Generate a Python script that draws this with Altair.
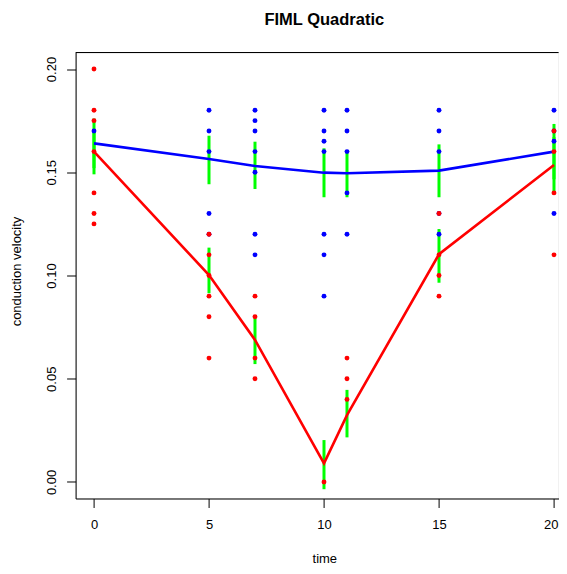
import altair as alt
import pandas as pd

# ---- data ----
times = [0, 5, 7, 10, 11, 15, 20]

blue_fit = [0.164, 0.1564, 0.153, 0.1498, 0.1495, 0.1508, 0.160]
red_fit = [0.160, 0.1002, 0.0688, 0.009, 0.0324, 0.1103, 0.1535]

blue_hi = [0.176, 0.1677, 0.1648, 0.1616, 0.160, 0.1635, 0.1734]
blue_lo = [0.152, 0.1442, 0.1419, 0.1379, 0.1379, 0.1379, 0.1466]
red_hi = [0.171, 0.1135, 0.0793, 0.0203, 0.0446, 0.1225, 0.167]
red_lo = [0.149, 0.0914, 0.0571, -0.0035, 0.0216, 0.0965, 0.1398]

blue_pt_time = [0, 5, 5, 5, 5, 5, 7, 7, 7, 7, 7, 7, 7,
                10, 10, 10, 10, 10, 10, 10, 11, 11, 11, 11, 11,
                15, 15, 15, 15, 15, 20, 20, 20, 20]
blue_pt_val = [0.17, 0.18, 0.17, 0.16, 0.13, 0.12, 0.18, 0.175, 0.17, 0.16, 0.15, 0.12, 0.11,
               0.18, 0.17, 0.165, 0.16, 0.12, 0.11, 0.09, 0.18, 0.17, 0.16, 0.14, 0.12,
               0.18, 0.17, 0.16, 0.13, 0.12, 0.18, 0.17, 0.165, 0.13]

red_pt_time = [0, 0, 0, 0, 0, 0, 0, 5, 5, 5, 5, 5, 5, 7, 7, 7, 7,
               10, 11, 11, 11, 15, 15, 15, 15, 20, 20, 20, 20]
red_pt_val = [0.20, 0.18, 0.175, 0.16, 0.14, 0.13, 0.125, 0.12, 0.11, 0.10, 0.09, 0.08, 0.06,
              0.09, 0.08, 0.06, 0.05, 0.00, 0.06, 0.05, 0.04, 0.13, 0.11, 0.10, 0.09,
              0.17, 0.16, 0.14, 0.11]

y_ticks = [0, 0.05, 0.10, 0.15, 0.20]
x_ticks = [0, 5, 10, 15, 20]

# ---- tables ----
fit_df = pd.DataFrame(
    {"time": times * 2, "fit": blue_fit + red_fit,
     "grp": ["blue"] * len(times) + ["red"] * len(times)})
err_df = pd.DataFrame(
    {"time": times * 2, "lo": blue_lo + red_lo, "hi": blue_hi + red_hi})
blue_df = pd.DataFrame({"time": blue_pt_time, "val": blue_pt_val})
red_df = pd.DataFrame({"time": red_pt_time, "val": red_pt_val})

FONT = "Liberation Sans"
W, H = 483, 446

xscale = alt.Scale(domain=[-0.8, W / 23 - 0.8], nice=False, zero=False)
yscale = alt.Scale(domain=[-0.008, 0.208], nice=False, zero=False)

xaxis = alt.Axis(values=x_ticks, title="time", grid=False, tickSize=9, tickColor="black",
                 domainColor="black", labelFont=FONT, labelFontSize=13, labelColor="black",
                 labelBaseline="alphabetic", labelPadding=21.5,
                 labelAlign={"condition": {"test": "datum.value >= 20", "value": "right"},
                             "value": "center"},
                 labelOffset={"condition": {"test": "datum.value >= 20", "value": 4},
                              "value": 0},
                 labelFlush=False,
                 titleFont=FONT, titleFontSize=13, titleFontWeight="normal", titleColor="black",
                 titleBaseline="alphabetic", titleX=248.7, titleY=64.5, titleAlign="center")
yaxis = alt.Axis(values=y_ticks, format=".2f", title="conduction velocity", grid=False,
                 tickSize=9, tickColor="black", domainColor="black", labelFont=FONT,
                 labelFontSize=13, labelColor="black", labelAngle=270, labelAlign="center",
                 labelBaseline="alphabetic", labelPadding=11, labelFlush=False,
                 titleFont=FONT, titleFontSize=13, titleFontWeight="normal", titleColor="black",
                 titleAngle=270, titleAlign="center", titleBaseline="alphabetic",
                 titleX=-54.6, titleY=218.5)

err = alt.Chart(err_df).mark_rule(color="#00ff00", strokeWidth=3).encode(
    x=alt.X("time:Q", scale=xscale, axis=xaxis),
    y=alt.Y("lo:Q", scale=yscale, axis=yaxis),
    y2="hi:Q")

lines = alt.Chart(fit_df).mark_line(strokeWidth=2.6).encode(
    x=alt.X("time:Q", scale=xscale),
    y=alt.Y("fit:Q", scale=yscale),
    color=alt.Color("grp:N", scale=alt.Scale(domain=["blue", "red"], range=["#0000ff", "#ff0000"]),
                    legend=None))

bpts = alt.Chart(blue_df).mark_circle(size=24, opacity=1, color="#0000ff").encode(
    x=alt.X("time:Q", scale=xscale), y=alt.Y("val:Q", scale=yscale))
rpts = alt.Chart(red_df).mark_circle(size=24, opacity=1, color="#ff0000").encode(
    x=alt.X("time:Q", scale=xscale), y=alt.Y("val:Q", scale=yscale))

top = alt.Chart(pd.DataFrame({"a": [0]})).mark_rule(color="black", strokeWidth=1).encode(
    x=alt.value(0), x2=alt.value(W), y=alt.value(0))

chart = alt.layer(err, lines, bpts, rpts, top).properties(
    width=W, height=H,
    title=alt.TitleParams("FIML Quadratic", font=FONT, fontSize=16.5, fontWeight="bold",
                          color="black", anchor="middle", frame="group", dx=7.2,
                          offset=11, baseline="alphabetic"),
    autosize=alt.AutoSizeParams(type="none"),
    padding={"left": 67.6, "top": 44.5, "right": 0, "bottom": 67.5},
).configure_view(stroke=None).configure(background="white")

chart.save("out.html", embed_options={"renderer": "svg", "actions": False})
